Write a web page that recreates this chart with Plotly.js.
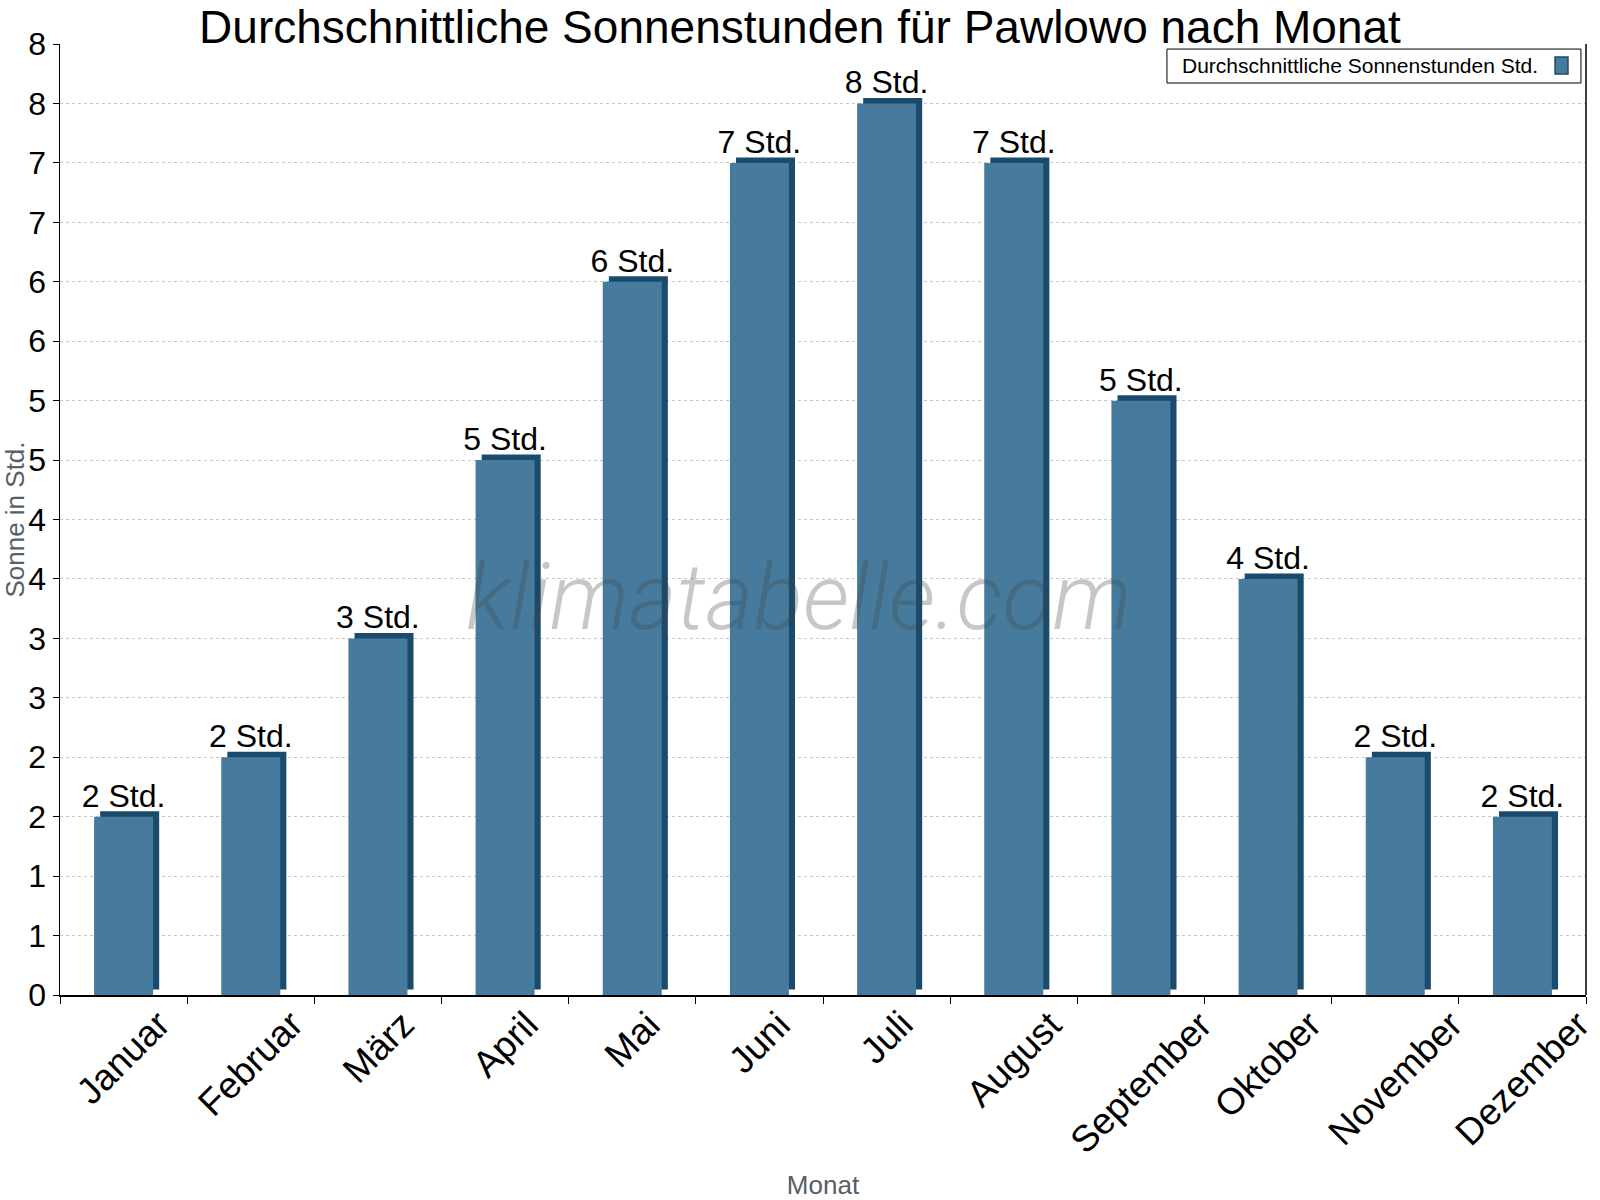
<!DOCTYPE html>
<html>
<head>
<meta charset="utf-8">
<script src="https://cdn.plot.ly/plotly-3.0.1.min.js"></script>
<style>
  html, body { margin: 0; padding: 0; background: #fff; }
  #chart { width: 1600px; height: 1200px; }
</style>
</head>
<body>
<div id="chart"></div>
<script>
  const months = ["Januar", "Februar", "März", "April", "Mai", "Juni", "Juli", "August", "September", "Oktober", "November", "Dezember"];
  const sunHours = [1.5, 2, 3, 4.5, 6, 7, 7.5, 7, 5, 3.5, 2, 1.5];
  const yTicks = [0, 0.5, 1, 1.5, 2, 2.5, 3, 3.5, 4, 4.5, 5, 5.5, 6, 6.5, 7, 7.5, 8];

  const FONT = "Liberation Sans, Arial, sans-serif";
  const FRONT = "#467b9d";
  const SIDE = "#1a4b6c";
  const BAR_W = 0.464;
  const DEPTH_X = 0.048;
  const DEPTH_Y = 0.046;

  const labels = sunHours.map((v) => `${Math.round(v)} Std.`);

  // back face, shifted up/right, gives the dark top and side of the box
  const side = {
    type: "bar",
    x: months,
    y: sunHours,
    base: DEPTH_Y,
    width: BAR_W,
    offset: -BAR_W / 2 + DEPTH_X,
    marker: { color: SIDE, line: { width: 0 } },
    hoverinfo: "skip",
    showlegend: false,
  };

  const front = {
    type: "bar",
    name: "Durchschnittliche Sonnenstunden Std.",
    x: months,
    y: sunHours,
    width: BAR_W,
    offset: -BAR_W / 2,
    marker: { color: FRONT, line: { width: 0 } },
    text: labels,
    textposition: "outside",
    constraintext: "none",
    cliponaxis: false,
    textfont: { family: FONT, size: 32, color: "#000" },
    showlegend: false,
  };

  const monthLabels = months.map((m) => ({
    x: m, xref: "x", y: -0.006, yref: "paper",
    text: m, showarrow: false, textangle: -45,
    xanchor: "center", yanchor: "top",
    font: { family: FONT, size: 37, color: "#000" },
  }));

  const layout = {
    width: 1600,
    height: 1200,
    margin: { l: 60, r: 14, t: 44, b: 205 },
    paper_bgcolor: "#fff",
    plot_bgcolor: "#fff",
    barmode: "overlay",
    showlegend: false,
    title: {
      text: "Durchschnittliche Sonnenstunden für Pawlowo nach Monat",
      font: { family: FONT, size: 46, color: "#000" },
      x: 0.5, xref: "container", xanchor: "center",
      y: 0.978, yref: "container", yanchor: "middle",
    },
    xaxis: {
      type: "category",
      range: [-0.5, 11.5],
      showticklabels: false,
      ticks: "outside",
      tickson: "boundaries",
      ticklen: 7,
      tickcolor: "#000",
      showline: true,
      linecolor: "#000",
      linewidth: 1.5,
      showgrid: false,
      title: { text: "Monat", font: { family: FONT, size: 26, color: "#565e66" }, standoff: 180 },
    },
    yaxis: {
      range: [0, 8],
      tickmode: "array",
      tickvals: yTicks,
      ticktext: yTicks.map((v) => String(Math.round(v))),
      ticks: "outside",
      ticklen: 6,
      tickcolor: "#000",
      tickfont: { family: FONT, size: 32, color: "#000" },
      showline: true,
      linecolor: "#000",
      linewidth: 1.5,
      showgrid: true,
      gridcolor: "#c8c8c8",
      griddash: "dot",
      gridwidth: 1,
      zeroline: false,
      title: { text: "Sonne in Std.", font: { family: FONT, size: 26, color: "#565e66" } },
    },
    shapes: [
      { type: "line", xref: "paper", yref: "paper", x0: 1, x1: 1, y0: 0, y1: 1, line: { color: "#000", width: 1.5 } },
      { type: "rect", xref: "paper", yref: "paper", x0: 0.7254, x1: 0.9967, y0: 0.959, y1: 0.9947,
        fillcolor: "#fff", line: { color: "#000", width: 1 } },
      { type: "rect", xref: "paper", yref: "paper", x0: 0.9797, x1: 0.9882, y0: 0.9684, y1: 0.9863,
        fillcolor: FRONT, line: { color: SIDE, width: 1.5 } },
    ],
    annotations: [
      {
        x: 0.484, y: 0.4175, xref: "paper", yref: "paper",
        text: "klimatabelle.com", showarrow: false,
        xanchor: "center", yanchor: "middle",
        font: { family: "Roboto, sans-serif", size: 92, weight: 300, style: "italic", color: "rgba(70,70,70,0.3)" },
      },
      {
        x: 0.734, y: 0.9769, xref: "paper", yref: "paper",
        text: "Durchschnittliche Sonnenstunden Std.", showarrow: false,
        xanchor: "left", yanchor: "middle",
        font: { family: FONT, size: 21, color: "#000" },
      },
    ].concat(monthLabels),
  };

  Plotly.newPlot("chart", [side, front], layout, { displayModeBar: false, staticPlot: true });
</script>
</body>
</html>
